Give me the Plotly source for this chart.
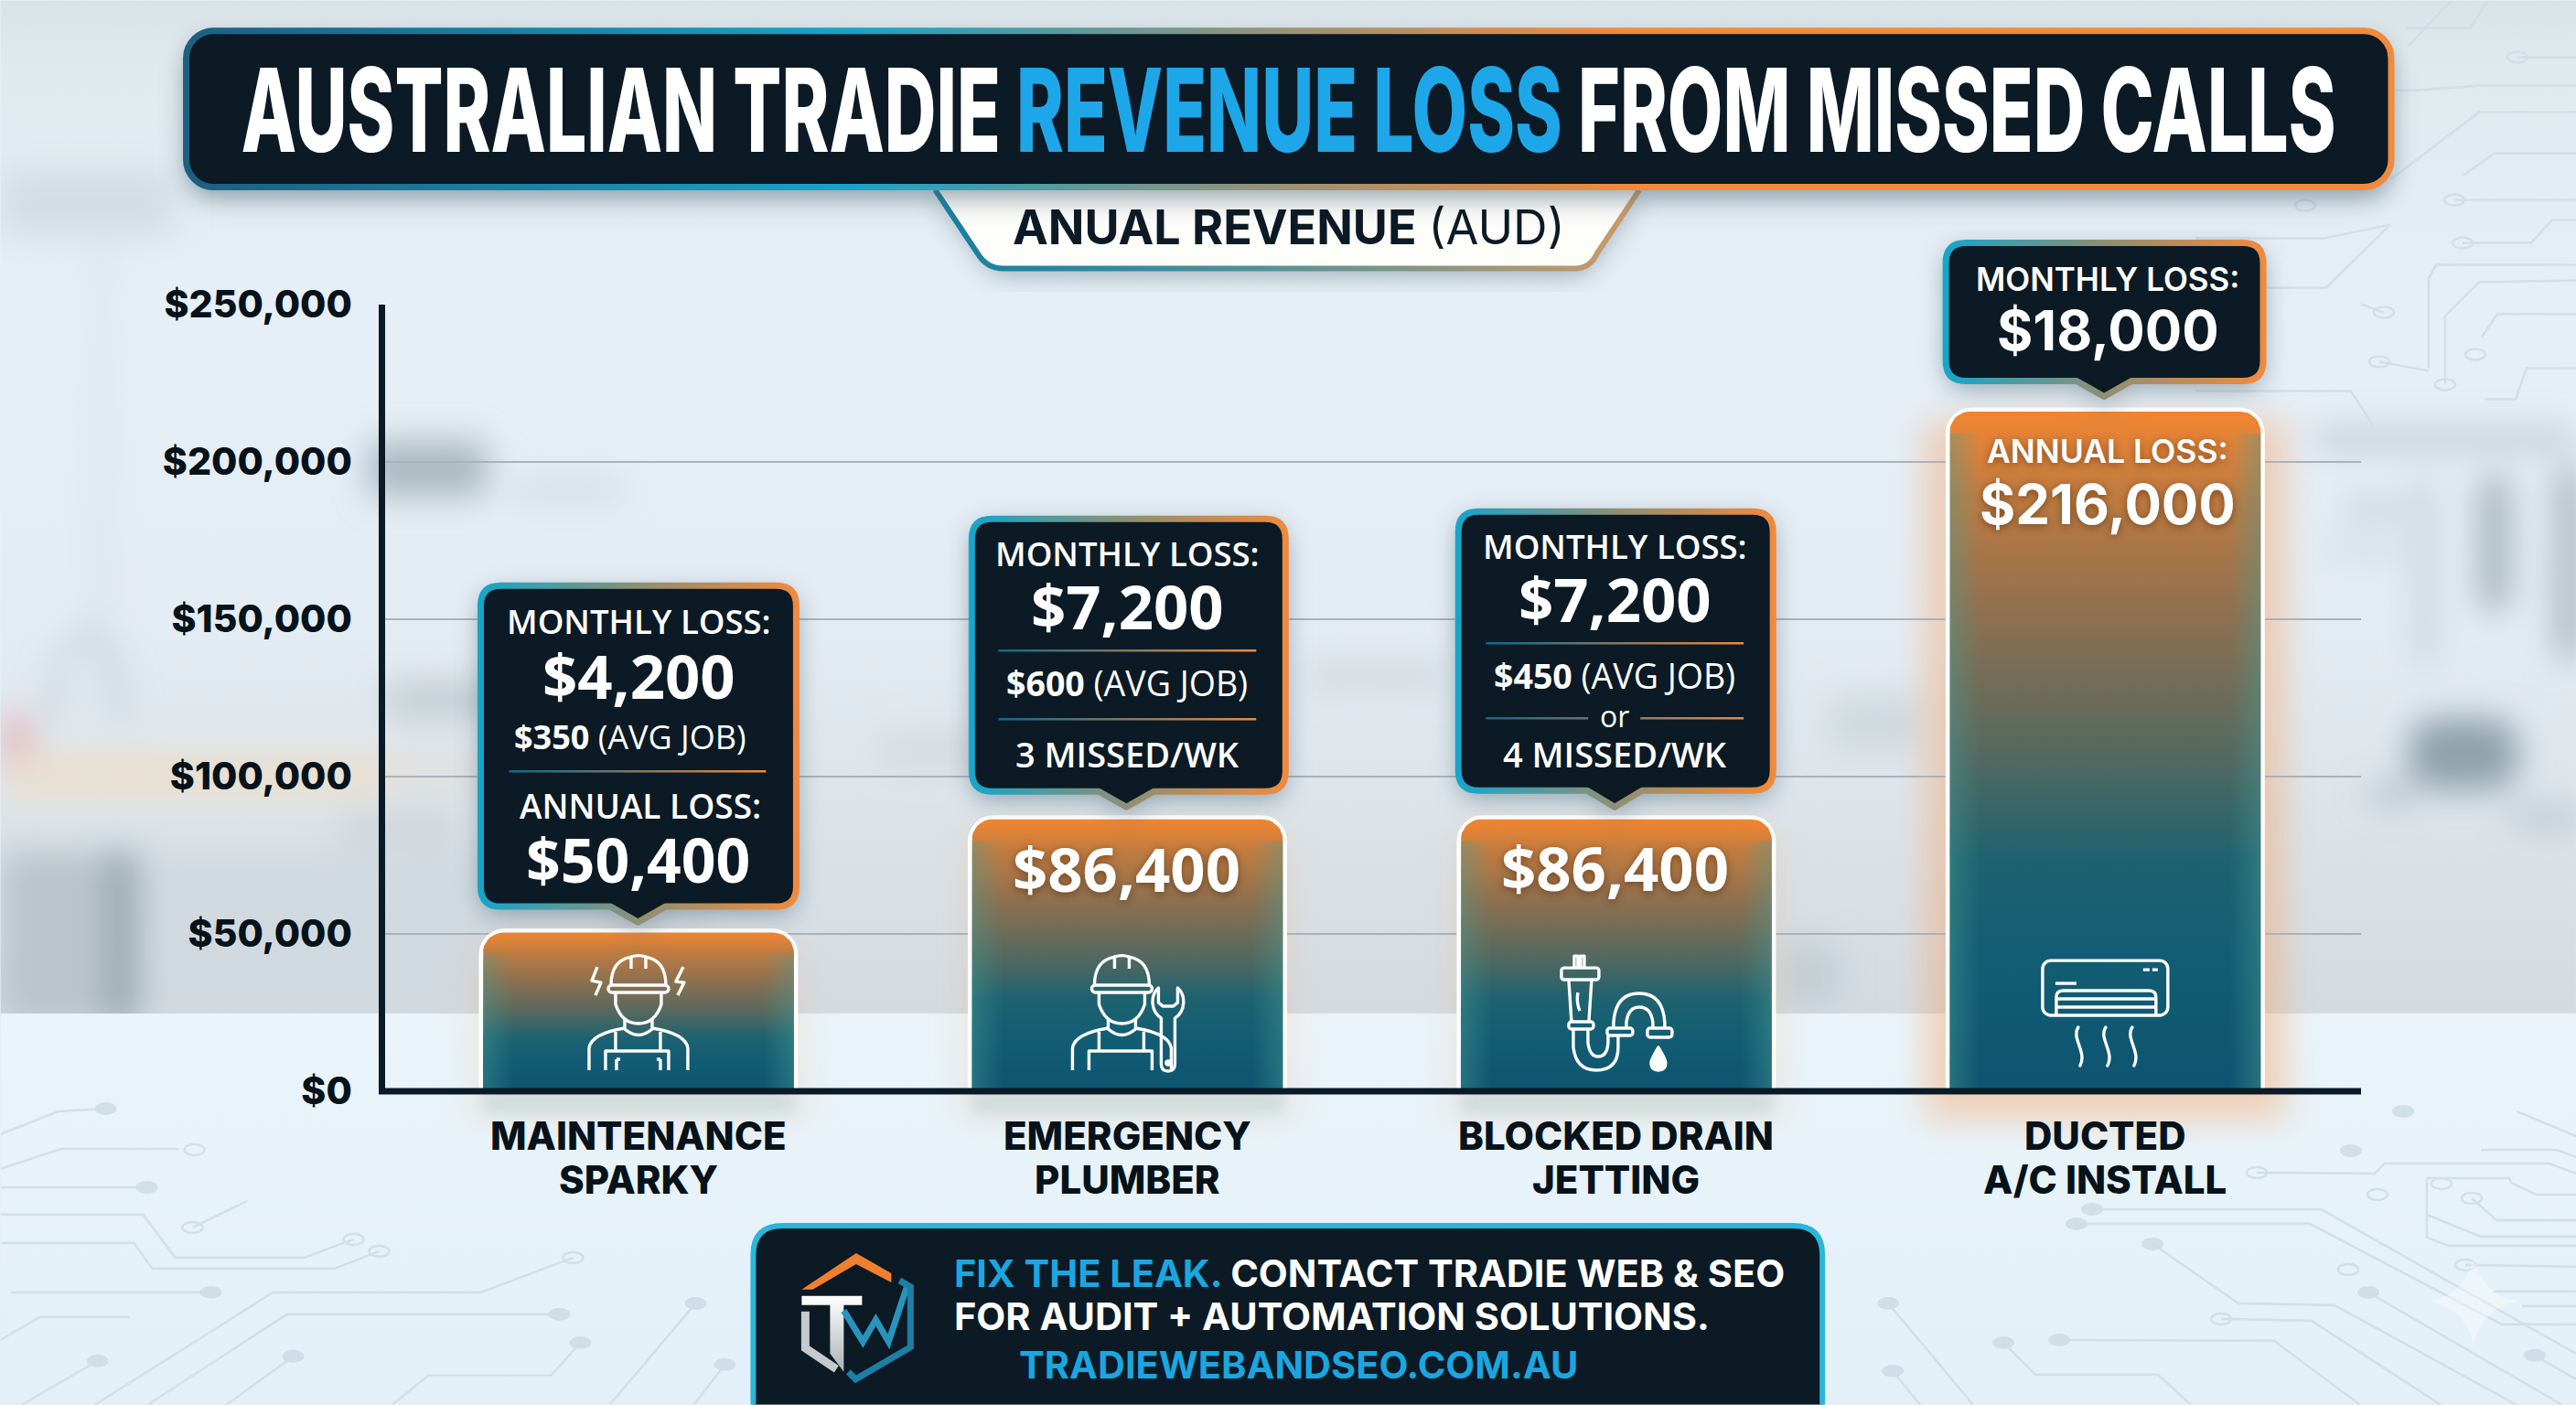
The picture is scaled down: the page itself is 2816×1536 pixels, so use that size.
import base64
import numpy as np
import plotly.graph_objects as go

# ---- chart data ----
categories = ["MAINTENANCE<br>SPARKY", "EMERGENCY<br>PLUMBER", "BLOCKED DRAIN<br>JETTING", "DUCTED<br>A/C INSTALL"]
annual_loss = [50400, 86400, 86400, 216000]
monthly_loss = [4200, 7200, 7200, 18000]
avg_job = [350, 600, 450, None]
missed_per_week = [None, 3, 4, None]
y_ticks = [0, 50000, 100000, 150000, 200000, 250000]
y_tick_labels = ["$0", "$50,000", "$100,000", "$150,000", "$200,000", "$250,000"]

# ---- canvas and plot geometry (pixels) ----
W, H = 2816, 1536
L, R, T, B = 420.5, 2581.0, 332.5, 1193.0
PW, PH = R - L, B - T
CENTER0, STEP = 697.5, 534.6
Y_MAX = 250000
BAR_W = 0.636
AXIS_W = 7

DARK = "#0b1a24"
ORANGE = "#f28632"
TEAL = "#17a5c9"
BLUE = "#1ba6e0"


def xpx(i):
    return CENTER0 + i * STEP


def ypx(v):
    return B - v / Y_MAX * PH


def px(x, y):
    """Pixel position on the canvas to paper coordinates."""
    return (x - L) / PW, (B - y) / PH


def rounded_top(i, v, radius=22):
    """Outline of a column with rounded top corners, in data units."""
    rx, ry = radius / STEP, radius / PH * Y_MAX
    hw = BAR_W / 2
    a = np.linspace(0, np.pi / 2, 10)
    left_x = i - hw + rx * (1 - np.cos(a))
    left_y = v - ry * (1 - np.sin(a))
    xs = [i - hw] + list(left_x) + list(2 * i - left_x[::-1]) + [i + hw, i - hw]
    ys = [0] + list(left_y) + list(left_y[::-1]) + [0, 0]
    return xs, ys


# ---- soft room backdrop and circuit tracery ----
def blob(x, y, w, h, fill, op=1.0, r=8):
    return f'<rect x="{x}" y="{y}" width="{w}" height="{h}" rx="{r}" fill="{fill}" opacity="{op}"/>'


room = [
    blob(0, 186, 190, 70, "#c5d0d7", 0.55),
    blob(100, 260, 22, 520, "#d5dee5", 0.5),
    blob(402, 482, 130, 60, "#a7b5be", 0.95),
    blob(560, 520, 120, 30, "#cdd6dc", 0.6),
    blob(0, 823, 420, 48, "#eadfce", 1),
    blob(420, 825, 400, 35, "#e2dcd4", 0.7),
    blob(0, 930, 152, 190, "#b9c5cb", 1),
    blob(115, 930, 36, 190, "#93a3ad", 0.9),
    blob(152, 930, 620, 190, "#d0d8de", 0.8),
    blob(0, 782, 34, 48, "#e6b3b5", 0.9),
    blob(420, 745, 130, 40, "#bcc5cb", 0.8),
    blob(370, 890, 130, 28, "#c3ccd2", 0.7),
    blob(960, 800, 110, 40, "#c9d1d6", 0.5),
    blob(1430, 720, 150, 36, "#c7d0d6", 0.5),
    blob(2000, 760, 100, 60, "#c4ced4", 0.6),
    blob(1950, 1030, 60, 70, "#b5c1c8", 0.55),
    blob(2530, 470, 286, 20, "#b8c4cb", 0.95),
    blob(2640, 520, 22, 205, "#c4cfd6", 0.9),
    blob(2710, 520, 34, 147, "#a5b3bc", 1),
    blob(2793, 510, 30, 210, "#a8b5bd", 1),
    blob(2560, 545, 70, 20, "#bdc9d0", 0.8),
    blob(2540, 590, 90, 20, "#ced8de", 0.8),
    blob(2633, 785, 120, 78, "#8fa1ac", 1, 30),
    blob(2590, 858, 50, 20, "#a9b6be", 0.9),
    blob(2743, 885, 80, 16, "#a9b6be", 0.9),
    '<path d="M55 790 Q60 700 95 690 Q130 700 135 790" fill="none" stroke="#aab6bd" stroke-width="12" opacity="0.55"/>',
]

trace_lines = [
    [(0, 1240), (63, 1215), (115, 1212)], [(0, 1278), (66, 1256), (195, 1256)], [(0, 1298), (160, 1298)],
    [(0, 1328), (156, 1328), (191, 1375), (332, 1375), (386, 1355)],
    [(0, 1359), (146, 1359), (166, 1387), (365, 1387), (414, 1368)],
    [(11, 1413), (230, 1413)], [(103, 1536), (298, 1413), (525, 1413), (626, 1375)],
    [(161, 1536), (313, 1437), (611, 1437)], [(247, 1536), (320, 1483)], [(23, 1536), (106, 1488)],
    [(0, 1465), (43, 1440), (141, 1440)], [(428, 1536), (468, 1504), (602, 1504), (634, 1468)],
    [(666, 1536), (760, 1425)], [(758, 1536), (792, 1492)], [(210, 1342), (270, 1313)],
    [(2467, 1282), (2596, 1283), (2607, 1272), (2787, 1272), (2816, 1283)],
    [(2287, 1322), (2537, 1322), (2816, 1480)], [(2270, 1338), (2525, 1338), (2735, 1448), (2816, 1448)],
    [(2353, 1360), (2447, 1425), (2552, 1427), (2751, 1536)], [(2428, 1442), (2527, 1444), (2668, 1536)],
    [(2251, 1465), (2486, 1466), (2580, 1536)], [(2190, 1468), (2225, 1503), (2359, 1503), (2395, 1536)],
    [(2064, 1425), (2157, 1536)], [(2069, 1499), (2099, 1536)], [(2589, 1413), (2801, 1536)],
    [(2771, 1482), (2816, 1508)], [(2653, 1353), (2653, 1288), (2743, 1288), (2745, 1293), (2773, 1306), (2816, 1306)],
    [(2653, 1353), (2677, 1362), (2816, 1362)], [(2653, 1328), (2712, 1352), (2816, 1352)],
    [(2702, 1310), (2729, 1334), (2816, 1334)], [(2695, 1383), (2816, 1385)], [(2726, 1412), (2816, 1412)],
    [(2757, 1428), (2816, 1428)], [(2751, 1215), (2816, 1242)], [(2712, 1257), (2795, 1257), (2816, 1265)],
    [(2617, 98), (2643, 98), (2710, 93), (2816, 93)], [(2613, 196), (2710, 122), (2816, 122)],
    [(2693, 191), (2727, 167), (2816, 167)], [(2683, 218), (2816, 218)], [(2752, 62), (2816, 62)],
    [(2692, 265), (2767, 265), (2790, 240), (2816, 240)], [(2655, 402), (2655, 304), (2663, 289), (2816, 289)],
    [(2673, 420), (2673, 345), (2710, 308), (2816, 306)], [(2713, 368), (2730, 343), (2816, 343)],
    [(2601, 395), (2655, 405)], [(2717, 436), (2750, 436), (2762, 402), (2816, 402)],
    [(2581, 332), (2606, 341)], [(2400, 260), (2540, 260), (2613, 245)], [(2400, 314), (2543, 314), (2613, 245)],
    [(2400, 427), (2570, 427), (2595, 466)], [(2633, 49), (2680, 0)], [(2630, 30), (2700, 30), (2720, 0)],
]
rings = [(212, 1257), (386, 1355), (414, 1368), (626, 1375), (210, 1342), (2467, 1282), (2428, 1442), (2599, 1306),
         (2567, 1388), (2669, 1294), (2702, 1310), (2695, 1383), (2752, 62), (2683, 218), (2692, 265), (2673, 420),
         (2706, 387), (2601, 395), (2606, 341), (2520, 224)]
dots = [(115, 1212), (160, 1298), (230, 1413), (611, 1437), (320, 1483), (106, 1488), (634, 1468), (760, 1425),
        (792, 1492), (2064, 1425), (2069, 1499), (2190, 1468), (2589, 1413), (2771, 1482), (2270, 1338), (2287, 1322),
        (2353, 1360), (2251, 1465), (2627, 1215), (2570, 1258)]


def polyline(pts):
    return "M" + " L".join(f"{x} {y}" for x, y in pts)


circuit = "".join(f'<path d="{polyline(p)}"/>' for p in trace_lines)
circuit_rings = "".join(f'<ellipse cx="{x}" cy="{y}" rx="11" ry="6"/>' for x, y in rings)
circuit_dots = "".join(f'<ellipse cx="{x}" cy="{y}" rx="12" ry="7"/>' for x, y in dots)

glow = ""
for i, v in enumerate(annual_loss):
    hw = BAR_W / 2 * STEP
    op = 0.42 if i == 3 else 0.16
    pad = 28 if i == 3 else 14
    glow += (f'<rect x="{xpx(i) - hw - pad}" y="{ypx(v) + 10}" width="{2 * hw + 2 * pad}" '
             f'height="{B - ypx(v) + 22}" fill="#f7a162" opacity="{op}" filter="url(#b18)"/>')
    if i < 3:
        glow += (f'<rect x="{xpx(i) - hw}" y="{B}" width="{2 * hw}" height="24" '
                 f'fill="#b6d3cf" opacity="0.55" filter="url(#b8)"/>')

backdrop_svg = f'''<svg xmlns="http://www.w3.org/2000/svg" width="{W}" height="{H}" viewBox="0 0 {W} {H}">
<defs>
<linearGradient id="wall" x1="0" y1="0" x2="0" y2="1">
<stop offset="0" stop-color="#d8e2e7"/><stop offset="0.06" stop-color="#e0e9ee"/><stop offset="0.3" stop-color="#e6eff7"/>
<stop offset="0.62" stop-color="#e4ecf3"/><stop offset="0.8" stop-color="#dce4ea"/><stop offset="1" stop-color="#d3dbe1"/>
</linearGradient>
<linearGradient id="floor" x1="0" y1="0" x2="0" y2="1"><stop offset="0" stop-color="#eaf4fa"/><stop offset="1" stop-color="#e3f0f8"/></linearGradient>
<filter id="b18" x="-40%" y="-40%" width="180%" height="180%"><feGaussianBlur stdDeviation="18"/></filter>
<filter id="b8" x="-40%" y="-80%" width="180%" height="260%"><feGaussianBlur stdDeviation="8"/></filter>
<filter id="b15" x="-10%" y="-10%" width="120%" height="120%"><feGaussianBlur stdDeviation="18"/></filter>
</defs>
<rect width="{W}" height="1110" fill="url(#wall)"/>
<g filter="url(#b15)">{''.join(room)}</g>
<rect y="1108" width="{W}" height="{H - 1108}" fill="url(#floor)"/>
<g fill="none" stroke="#cfdde6" stroke-width="2.6" opacity="0.85">{circuit}{circuit_rings}</g>
<g fill="#cfdde6" opacity="0.9">{circuit_dots}</g>
{glow}
<path d="M2704 1375 Q2712 1415 2752 1423 Q2712 1431 2704 1471 Q2696 1431 2656 1423 Q2696 1415 2704 1375Z" fill="#ffffff" opacity="0.35"/>
</svg>'''


# ---- panels, callouts and line icons that sit above the columns ----
def callout_path(x0, y0, x1, y1, tip_x, tip_y, r=22):
    return (f"M{x0 + r} {y0} H{x1 - r} Q{x1} {y0} {x1} {y0 + r} V{y1 - r} Q{x1} {y1} {x1 - r} {y1} "
            f"H{tip_x + 30} L{tip_x} {tip_y} L{tip_x - 30} {y1} H{x0 + r} Q{x0} {y1} {x0} {y1 - r} V{y0 + r} Q{x0} {y0} {x0 + r} {y0}Z")


callout_boxes = [(525, 640, 870, 991, 697, 1008), (1062, 567, 1405, 865, 1231, 882),
                 (1594, 559, 1938, 864, 1765, 882), (2127, 265, 2474, 416, 2300, 433)]


def callout_svg(i):
    x0, y0, x1, y1, tx, ty = callout_boxes[i]
    d = callout_path(x0, y0, x1, y1, tx, ty)
    return (f'<linearGradient id="cg{i}" gradientUnits="userSpaceOnUse" x1="{x0}" y1="0" x2="{x1}" y2="0">'
            f'<stop offset="0" stop-color="{TEAL}"/><stop offset="0.5" stop-color="#8e8f74"/><stop offset="1" stop-color="#f08a3c"/></linearGradient>'
            f'<path d="{d}" transform="translate(0,8)" fill="#4d6675" opacity="0.55" filter="url(#s14)"/>'
            f'<path d="{d}" fill="{DARK}" stroke="url(#cg{i})" stroke-width="7" stroke-linejoin="round"/>')


def divider(x0, x1, y, i):
    return (f'<line x1="{x0}" x2="{x1}" y1="{y}" y2="{y}" stroke="url(#dg{i})" stroke-width="2.5"/>')


def divider_grad(i, x0, x1):
    return (f'<linearGradient id="dg{i}" gradientUnits="userSpaceOnUse" x1="{x0}" y1="0" x2="{x1}" y2="0">'
            f'<stop offset="0" stop-color="#12688a"/><stop offset="1" stop-color="#f08a3c"/></linearGradient>')


def worker(dx):
    """Hard-hat worker outline centred on x = dx."""
    return (f'<g transform="translate({dx},0)">'
            '<path d="M-30 1077 Q-30 1050 -8 1046 L-8 1059 M8 1059 L8 1046 Q30 1050 30 1077"/>'
            '<path d="M-8 1046 Q0 1043 8 1046"/>'
            '<rect x="-33" y="1077" width="66" height="8" rx="4"/>'
            '<path d="M-25 1085 L-25 1098 Q-18 1119 0 1119 Q18 1119 25 1098 L25 1085"/>'
            '<path d="M-15 1114 L-15 1125 Q0 1138 15 1125 L15 1114"/>'
            '<path d="M-54 1170 L-54 1146 Q-52 1130 -15 1124 M15 1124 Q52 1130 54 1146 L54 1170"/>'
            '<path d="M-36 1170 L-36 1149 L33 1149 L33 1170 M-25 1149 L-25 1128 M24 1149 L24 1128"/>'
            '</g>')


def sparky_icon(cx):
    return worker(cx) + (f'<g transform="translate({cx},0)">'
                         '<path d="M-45 1057 L-51 1072 L-41 1074 L-47 1088"/><path d="M49 1057 L41 1073 L50 1074 L43 1088"/>'
                         '<path d="M-24 1158 V1170 M-24 1158 H-20 M24 1158 V1170 M24 1158 H20"/></g>')


def plumber_icon(cx):
    return worker(cx - 6) + (f'<g transform="translate({cx},0)">'
                             '<path d="M37 1113 C25 1105 25 1088 34 1080 L34 1096 L39 1100 L50 1100 L55 1096 L55 1080 '
                             'C64 1088 64 1105 52 1113 L52 1163 Q52 1171 44.5 1171 Q37 1171 37 1163 Z"/>'
                             '<circle cx="44.5" cy="1162" r="2"/></g>')


def drain_icon(cx):
    return (f'<g transform="translate({cx - 1766},0)">'
            '<path d="M1720 1058 V1045 H1724 V1058 M1727 1058 V1045 H1731 V1058"/>'
            '<rect x="1706" y="1058" width="41" height="13" rx="3"/>'
            '<path d="M1714 1071 L1717 1117 M1739 1071 L1736 1117 M1724 1085 Q1722 1095 1726 1105"/>'
            '<rect x="1714" y="1117" width="27" height="8" rx="3"/>'
            '<path d="M1719 1125 V1145 Q1722 1170 1744 1170 Q1768 1170 1768 1145 V1132 M1735 1125 V1140 Q1737 1155 1746 1155 Q1756 1155 1757 1140 V1132"/>'
            '<rect x="1756" y="1124" width="28" height="8" rx="3"/>'
            '<path d="M1763 1124 V1118 Q1765 1086 1791 1086 Q1817 1086 1819 1118 V1124 M1777 1124 V1118 Q1779 1101 1791 1101 Q1804 1101 1806 1118 V1124"/>'
            '<rect x="1800" y="1124" width="27" height="10" rx="3"/>'
            '<path d="M1812 1145 Q1820 1158 1820 1162 Q1820 1170 1812 1170 Q1804 1170 1804 1162 Q1804 1158 1812 1145Z" fill="#ffffff"/>'
            '</g>')


def ac_icon(cx):
    return (f'<g transform="translate({cx - 2301.5},0)">'
            '<rect x="2233" y="1050" width="137" height="60" rx="9"/>'
            '<path d="M2248 1110 V1090 Q2248 1083 2256 1083 H2349 Q2357 1083 2357 1090 V1110 M2248 1092 H2357 M2248 1101 H2357"/>'
            '<path d="M2247 1075 H2270"/><path d="M2343 1060 H2350 M2353 1060 H2359"/>'
            '<path d="M2272 1123 C2264 1135 2282 1150 2274 1165 M2302 1123 C2294 1135 2312 1150 2304 1165 M2331 1123 C2323 1135 2341 1150 2333 1165" stroke-linecap="round"/>'
            '</g>')


edge_tint = ""
for i, v in enumerate(annual_loss):
    hw = BAR_W / 2 * STEP
    edge_tint += (f'<rect x="{xpx(i) - hw}" y="{ypx(v) + 24}" width="{2 * hw}" height="{B - ypx(v) - 27}" fill="url(#edge)" opacity="0.5"/>')

overlay_svg = f'''<svg xmlns="http://www.w3.org/2000/svg" width="{W}" height="{H}" viewBox="0 0 {W} {H}">
<defs>
<filter id="s14" x="-20%" y="-20%" width="140%" height="140%"><feGaussianBlur stdDeviation="14"/></filter>
<linearGradient id="edge" x1="0" y1="0" x2="1" y2="0">
<stop offset="0" stop-color="#4a9d94" stop-opacity="0.8"/><stop offset="0.1" stop-color="#4a9d94" stop-opacity="0"/>
<stop offset="0.9" stop-color="#4a9d94" stop-opacity="0"/><stop offset="1" stop-color="#4a9d94" stop-opacity="0.8"/>
</linearGradient>
<linearGradient id="head" gradientUnits="userSpaceOnUse" x1="201" y1="0" x2="2615" y2="0">
<stop offset="0" stop-color="#1c5f80"/><stop offset="0.3" stop-color="#18a3c6"/><stop offset="0.5" stop-color="#9b9275"/>
<stop offset="0.65" stop-color="#f08a3c"/><stop offset="1" stop-color="#f08a3c"/>
</linearGradient>
<linearGradient id="tab" gradientUnits="userSpaceOnUse" x1="1022" y1="0" x2="1792" y2="0">
<stop offset="0" stop-color="#127f9f"/><stop offset="0.45" stop-color="#4f9299"/><stop offset="1" stop-color="#d09a66"/>
</linearGradient>
<linearGradient id="logoT" x1="0" y1="0" x2="0" y2="1"><stop offset="0" stop-color="#ffffff"/><stop offset="1" stop-color="#aab2b6"/></linearGradient>
{divider_grad(0, 556, 837)}{divider_grad(1, 1091, 1373)}{divider_grad(2, 1624, 1906)}
</defs>
{edge_tint}
<g fill="none" stroke="#ffffff" stroke-width="3.4" stroke-linejoin="round">
{sparky_icon(xpx(0))}{plumber_icon(xpx(1))}{drain_icon(xpx(2))}{ac_icon(xpx(3))}
</g>
{callout_svg(0)}{callout_svg(1)}{callout_svg(2)}{callout_svg(3)}
{divider(556, 837, 843, 0)}{divider(1091, 1373, 711, 1)}{divider(1091, 1373, 786, 1)}
{divider(1624, 1906, 703, 2)}{divider(1624, 1736, 785, 2)}{divider(1793, 1906, 785, 2)}
<path d="M1022 207 L1074 275 Q1084 293 1100 293 H1720 Q1736 293 1744 275 L1792 207Z" transform="translate(0,8)" fill="#5c7482" opacity="0.5" filter="url(#s14)"/>
<path d="M1022 207 L1068 276 Q1078 293 1096 293 H1722 Q1738 293 1746 276 L1792 207" fill="#fdfdfa" stroke="url(#tab)" stroke-width="6"/>
<rect x="203" y="33" width="2411" height="171" rx="30" transform="translate(0,12)" fill="#4f6776" opacity="0.6" filter="url(#s14)"/>
<rect x="203" y="33" width="2411" height="171" rx="30" fill="{DARK}" stroke="url(#head)" stroke-width="7"/>
<path d="M823 1536 V1372 Q823 1340 855 1340 H1960 Q1992 1340 1992 1372 V1536" fill="{DARK}" stroke="#2ab6d8" stroke-width="6"/>
<path d="M876 1410 L935.5 1370 L974 1392 L974 1402 L935.5 1382 L888 1410Z" fill="#f08030"/>
<path d="M876 1417 H942 V1427 H922 V1500 L907 1480 V1427 H876Z" fill="url(#logoT)"/>
<path d="M880 1434 V1474 L914 1497" fill="none" stroke="#c4cacd" stroke-width="9"/>
<path d="M922 1433 L943 1467 L957 1443 L971 1467 L991 1407" fill="none" stroke="#2a93bd" stroke-width="7"/>
<path d="M983 1400 L995 1407 V1473 L935 1508 L927 1500" fill="none" stroke="#1e7fa5" stroke-width="7"/>
</svg>'''


def data_uri(svg):
    return "data:image/svg+xml;base64," + base64.b64encode(svg.encode("utf-8")).decode("ascii")


def full_canvas(svg, layer):
    x0, y0 = px(0, 0)
    return dict(source=data_uri(svg), xref="paper", yref="paper", x=x0, y=y0, sizex=W / PW, sizey=H / PH,
                xanchor="left", yanchor="top", sizing="stretch", layer=layer)


# ---- text placed on the panels ----
def label(x, y, text, size, color="#ffffff", weight=700, family="Inter", anchor="center", shadow=None):
    ax, ay = px(x, y)
    font = dict(family=family, size=size, color=color, weight=weight)
    if shadow:
        font["shadow"] = shadow
    return dict(xref="paper", yref="paper", x=ax, y=ay, text=text, showarrow=False, font=font,
                xanchor=anchor, yanchor="middle", align=anchor)


def money(v):
    return f"${v:,.0f}"


BODY = "Open Sans"
BAR_SHADOW = "0px 2px 8px rgba(70,35,10,0.55)"
annotations = [
    label(1408, 119,
          '<span style="color:#ffffff">AUSTRALIAN TRADIE </span><span style="color:#1ea7e8">REVENUE LOSS</span>'
          '<span style="color:#ffffff"> FROM MISSED CALLS</span>',
          127, weight=800),
    label(1409, 248, '<b>ANUAL REVENUE</b> <span style="font-weight:400">(AUD)</span>', 52, DARK, 600),
    # first callout
    label(698, 679, "MONTHLY LOSS:", 36.5, weight=600, family=BODY),
    label(698, 738, money(monthly_loss[0]), 67, family=BODY),
    label(689, 805, f"<b>{money(avg_job[0])}</b> (AVG JOB)", 36, weight=400, family=BODY),
    label(700, 880, "ANNUAL LOSS:", 37, weight=600, family=BODY),
    label(697, 939, money(annual_loss[0]), 66, family=BODY),
    # second callout
    label(1232, 605, "MONTHLY LOSS:", 36.5, weight=600, family=BODY),
    label(1232, 662, money(monthly_loss[1]), 67, family=BODY),
    label(1232, 746, f"<b>{money(avg_job[1])}</b> (AVG JOB)", 37.5, weight=400, family=BODY),
    label(1232, 824, f"{missed_per_week[1]} MISSED/WK", 38, weight=600, family=BODY),
    label(1231, 949, money(annual_loss[1]), 67, family=BODY, shadow=BAR_SHADOW),
    # third callout
    label(1765, 597, "MONTHLY LOSS:", 36.5, weight=600, family=BODY),
    label(1765, 654, money(monthly_loss[2]), 67, family=BODY),
    label(1765, 738, f"<b>{money(avg_job[2])}</b> (AVG JOB)", 37.5, weight=400, family=BODY),
    label(1765, 782, "or", 32, weight=400, family=BODY),
    label(1765, 824, f"{missed_per_week[2]} MISSED/WK", 38, weight=600, family=BODY),
    label(1765, 948, money(annual_loss[2]), 67, family=BODY, shadow=BAR_SHADOW),
    # fourth callout and the label inside the tall column
    label(2304, 304, "MONTHLY LOSS:", 35, weight=600),
    label(2304, 361, money(monthly_loss[3]), 60),
    label(2304, 493, "ANNUAL LOSS:", 35.5, weight=600, shadow=BAR_SHADOW),
    label(2304, 551, money(annual_loss[3]), 60, shadow=BAR_SHADOW),
    # footer
    label(1041, 1392, f'<span style="color:{BLUE}">FIX THE LEAK.</span> CONTACT TRADIE WEB &amp; SEO', 41.5, anchor="left"),
    label(1041, 1439, "FOR AUDIT + AUTOMATION SOLUTIONS.", 41.5, anchor="left"),
    label(1419, 1492, "TRADIEWEBANDSEO.COM.AU", 41.5, BLUE),
]

# category names sit under the axis, one annotation per line for their tight leading
for i, name in enumerate(categories):
    for row, line in zip((1242, 1290), name.split("<br>")):
        item = label(0, row, line, 42, "#07121a", 800)
        item.update(xref="x", x=i)
        annotations.append(item)

fig = go.Figure()

# white column bodies carry the values; the gradient face sits on top of them
fig.add_trace(go.Bar(
    x=list(range(len(annual_loss))), y=annual_loss, width=BAR_W,
    marker=dict(color="#ffffff", line=dict(color="#ffffff", width=9), cornerradius=24),
    hoverinfo="skip", showlegend=False,
))

gradient_scale = [[0, "#0d5470"], [0.2, "#125d74"], [0.34, "#1e6270"], [0.5, "#56695f"],
                  [0.7, "#8e7050"], [0.88, "#c07b40"], [1, "#f28632"]]
for i, v in enumerate(annual_loss):
    xs, ys = rounded_top(i, v)
    fig.add_trace(go.Scatter(
        x=xs, y=ys, mode="lines", line=dict(width=0), fill="toself",
        fillgradient=dict(type="vertical", colorscale=gradient_scale),
        hoverinfo="skip", showlegend=False,
    ))

fig.update_layout(
    width=W, height=H,
    margin=dict(l=L, r=W - R, t=T, b=H - B, pad=0),
    paper_bgcolor="#e6eff7", plot_bgcolor="rgba(0,0,0,0)",
    showlegend=False,
    images=[full_canvas(backdrop_svg, "below"), full_canvas(overlay_svg, "above")],
    annotations=annotations,
    # the baseline straddles value zero rather than hanging under the plot area
    shapes=[dict(type="line", layer="above", xref="paper", yref="paper",
                 x0=-AXIS_W / PW, x1=1, y0=0, y1=0, line=dict(color="#0a1a26", width=AXIS_W))],
    xaxis=dict(
        range=[(L - CENTER0) / STEP, (R - CENTER0) / STEP],
        tickmode="array", tickvals=list(range(len(categories))), showticklabels=False, ticks="",
        showgrid=False, zeroline=False, showline=False,
    ),
    yaxis=dict(
        range=[0, Y_MAX], tickmode="array", tickvals=y_ticks, ticktext=y_tick_labels,
        ticks="outside", ticklen=21, tickcolor="rgba(0,0,0,0)",
        tickfont=dict(family="Inter", size=41, color="#07121a", weight=800),
        showgrid=True, gridcolor="#a9b2ba", gridwidth=2, zeroline=False,
        showline=True, linecolor="#0a1a26", linewidth=AXIS_W,
    ),
)

# the headline is set far narrower than any installed family, so squeeze it horizontally to its panel
squeeze = """
var gd = document.getElementById('{plot_id}');
gd.querySelectorAll('g.annotation text').forEach(function (t) {
  if (t.textContent.indexOf('AUSTRALIAN') !== 0) { return; }
  var k = 2290 / t.getBBox().width;
  t.style.transformBox = 'fill-box';
  t.style.transformOrigin = 'center';
  t.style.transform = 'scaleX(' + k + ')';
});
"""

fig.write_html("out.html", config=dict(displayModeBar=False), post_script=squeeze)
